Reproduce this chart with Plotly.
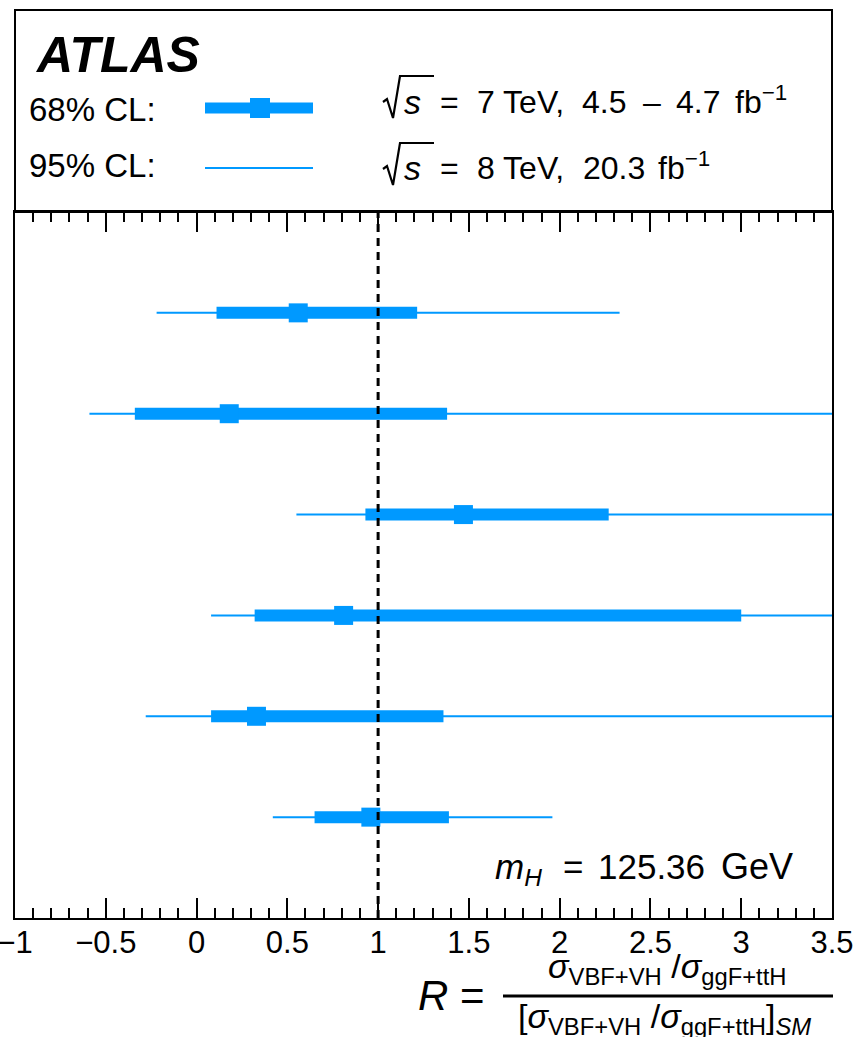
import plotly.graph_objects as go

# Canvas and frame geometry (pixels)
W, H = 855, 1037
M_L, M_R, M_T, M_B = 15, 23, 10, 119
DATA_TOP_PX = 212          # header box sits above the data area
FRAME_H = H - M_T - M_B
FRAME_W = W - M_L - M_R
Y_DOMAIN_TOP = (H - M_B - DATA_TOP_PX) / FRAME_H

# Measurements of R, one row per channel (top to bottom)
row_pos = [6, 5, 4, 3, 2, 1]
central = [0.56, 0.18, 1.47, 0.81, 0.33, 0.96]
lo68 = [0.11, -0.34, 0.93, 0.32, 0.08, 0.65]
hi68 = [1.215, 1.38, 2.27, 3.00, 1.36, 1.39]
lo95 = [-0.22, -0.59, 0.55, 0.08, -0.28, 0.42]
hi95 = [2.33, 3.9, 3.9, 3.9, 3.9, 1.96]

sm_value = 1.0
x_range = [-1, 3.5]

BLUE = "#0099ff"
FONT = "Liberation Sans, Arial, Helvetica, sans-serif"


def px(x):
    return (x - M_L) / FRAME_W


def py(y):
    return (H - M_B - y) / FRAME_H


def seg(lo, hi, ys):
    xs, yy = [], []
    for a, b, r in zip(lo, hi, ys):
        xs += [a, b, None]
        yy += [r, r, None]
    return xs, yy


fig = go.Figure()

x95, y95 = seg(lo95, hi95, row_pos)
fig.add_trace(go.Scatter(x=x95, y=y95, mode="lines",
                         line=dict(color=BLUE, width=2), hoverinfo="skip"))
x68, y68 = seg(lo68, hi68, row_pos)
fig.add_trace(go.Scatter(x=x68, y=y68, mode="lines",
                         line=dict(color=BLUE, width=12), hoverinfo="skip"))
fig.add_trace(go.Scatter(x=central, y=row_pos, mode="markers",
                         marker=dict(symbol="square", size=19, color=BLUE,
                                     line=dict(width=0))))


def radical(x0, y_top, y_bot, x_end):
    """Square-root sign drawn as a path, with its overbar."""
    pts = [(x0, y_bot - 16), (x0 + 4, y_bot - 19), (x0 + 10, y_bot),
           (x0 + 17, y_top), (x_end, y_top)]
    d = "M " + " L ".join(f"{px(a):.5f},{py(b):.5f}" for a, b in pts)
    return dict(type="path", xref="paper", yref="paper", path=d,
                line=dict(color="black", width=2.2))


shapes = [
    # SM expectation
    dict(type="line", xref="x", yref="y", x0=sm_value, x1=sm_value, y0=0, y1=7,
         line=dict(color="black", width=3, dash="8px,6px"), layer="above"),
    # header box
    dict(type="rect", xref="paper", yref="paper", x0=0, x1=1,
         y0=Y_DOMAIN_TOP, y1=1, line=dict(color="black", width=2)),
    # header: 68% CL sample
    dict(type="line", xref="paper", yref="paper", x0=px(205), x1=px(313),
         y0=py(108), y1=py(108), line=dict(color=BLUE, width=11)),
    dict(type="rect", xref="paper", yref="paper", x0=px(250), x1=px(270),
         y0=py(118), y1=py(98), line=dict(width=0), fillcolor=BLUE),
    # header: 95% CL sample
    dict(type="line", xref="paper", yref="paper", x0=px(205), x1=px(313),
         y0=py(168), y1=py(168), line=dict(color=BLUE, width=2)),
    # sqrt(s) signs
    radical(383, 76, 118, 434),
    radical(383, 143, 185, 434),
    # fraction bar of the axis title
    dict(type="line", xref="paper", yref="paper", x0=px(503), x1=px(833),
         y0=py(996), y1=py(996), line=dict(color="black", width=3)),
]


def label(text, x, y, size, xanchor="left"):
    return dict(text=text, xref="paper", yref="paper", x=px(x), y=py(y),
                xanchor=xanchor, yanchor="middle", showarrow=False,
                font=dict(family=FONT, size=size, color="black"))


HS = 32  # header text size
annotations = [
    label("<b><i>ATLAS</i></b>", 33, 55, 50),
    label("68% CL:", 27, 110, 33),
    label("95% CL:", 27, 165, 33),
    # sqrt(s) = 7 TeV line
    label("<i>s</i>", 402, 102, 34),
    label("=", 438, 102, HS),
    label("7 TeV,", 475, 102, HS),
    label("4.5", 580, 102, HS),
    label("–", 641, 102, HS),
    label("4.7", 674, 102, HS),
    label("fb<sup>−1</sup>", 733, 100, HS),
    # sqrt(s) = 8 TeV line
    label("<i>s</i>", 402, 168, 34),
    label("=", 438, 168, HS),
    label("8 TeV,", 475, 168, HS),
    label("20.3", 581, 168, HS),
    label("fb<sup>−1</sup>", 656, 166, HS),
    # Higgs mass
    label("<i>m<sub>H</sub></i>", 493, 869, 35),
    label("=", 561, 866, 35),
    label("125.36", 596, 866, 35),
    label("GeV", 719, 866, 36),
    # axis title
    label("<i>R</i> =", 416, 995, 42),
    label("<i>σ</i><sub>VBF+VH</sub> /<i>σ</i><sub>ggF+ttH</sub>", 667, 968, 34,
          "center"),
    label("[<i>σ</i><sub>VBF+VH</sub> /<i>σ</i><sub>ggF+ttH</sub>]<sub><i>SM</i></sub>",
          664, 1019, 34, "center"),
]

fig.update_layout(
    width=W, height=H,
    margin=dict(l=M_L, r=M_R, t=M_T, b=M_B, pad=0, autoexpand=False),
    paper_bgcolor="white", plot_bgcolor="white",
    showlegend=False,
    shapes=shapes,
    annotations=annotations,
    font=dict(family=FONT, color="black"),
    xaxis=dict(
        range=x_range, domain=[0, 1], tick0=0, dtick=0.5,
        automargin=False, ticklabeloverflow="allow", ticklabelstandoff=-4,
        ticks="inside", ticklen=20, tickwidth=2, tickcolor="black",
        minor=dict(dtick=0.1, ticks="inside", ticklen=10, tickwidth=2,
                   tickcolor="black"),
        showline=True, linecolor="black", linewidth=2, mirror="ticks",
        showgrid=False, zeroline=False,
        tickfont=dict(family=FONT, size=31, color="black"),
    ),
    yaxis=dict(
        range=[0, 7], domain=[0, Y_DOMAIN_TOP], automargin=False,
        showticklabels=False, ticks="",
        showline=True, linecolor="black", linewidth=2, mirror=True,
        showgrid=False, zeroline=False,
    ),
)

fig.write_html("out.html")
